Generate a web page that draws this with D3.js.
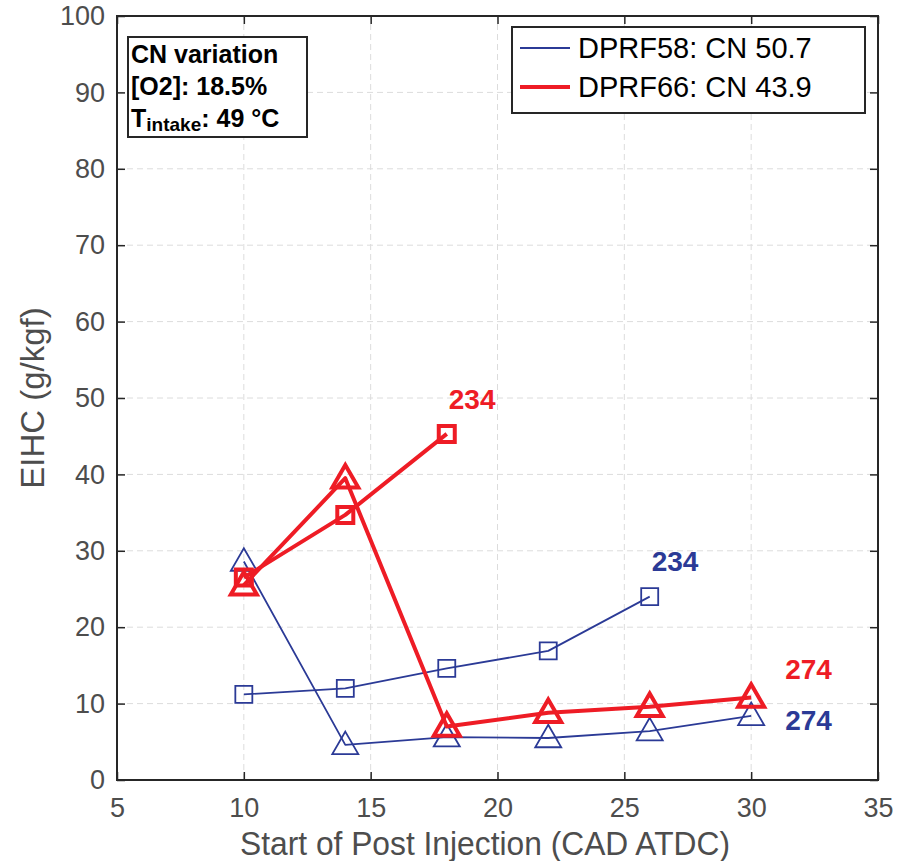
<!DOCTYPE html>
<html>
<head>
<meta charset="utf-8">
<script src="https://cdn.jsdelivr.net/npm/d3@7"></script>
<style>
  body { margin: 0; background: #fff; }
  svg { font-family: "Liberation Sans", Arial, sans-serif; }
</style>
</head>
<body>
<svg id="chart" width="912" height="861"></svg>
<script>
// Data
const xTicks = [5, 10, 15, 20, 25, 30, 35]
const yTicks = [0, 10, 20, 30, 40, 50, 60, 70, 80, 90, 100]
const blue234X = [10, 14, 18, 22, 26]
const blue234Y = [11.2, 12.0, 14.6, 16.9, 24.0]
const blue274X = [10, 14, 18, 22, 26, 30]
const blue274Y = [28.6, 4.6, 5.6, 5.5, 6.4, 8.4]
const red234X = [10, 14, 18]
const red234Y = [26.5, 34.7, 45.3]
const red274X = [10, 14, 18, 22, 26, 30]
const red274Y = [25.5, 39.5, 7.0, 8.8, 9.6, 10.8]
const legendNames = ["DPRF58: CN 50.7", "DPRF66: CN 43.9"]

const BLUE = "#2b3a96"
const RED = "#ee1c25"
const AXIS = "#262626"
const TICKTEXT = "#4d4d4d"

const svg = d3.select("#chart")
const margin = { top: 16, left: 117, right: 34, bottom: 81 }
const width = 912, height = 861

const x = d3.scaleLinear().domain([5, 35]).range([margin.left, width - margin.right])
const y = d3.scaleLinear().domain([0, 100]).range([height - margin.bottom, margin.top])

// Grid
const grid = svg.append("g").attr("stroke", "#dcdcdc").attr("stroke-dasharray", "6,4").attr("stroke-width", 1)
grid.selectAll(".gx").data(xTicks.slice(1, -1)).join("line")
  .attr("x1", d => x(d)).attr("x2", d => x(d)).attr("y1", y(0)).attr("y2", y(100))
grid.selectAll(".gy").data(yTicks.slice(1, -1)).join("line")
  .attr("x1", x(5)).attr("x2", x(35)).attr("y1", d => y(d)).attr("y2", d => y(d))

// Axes (ticks inside, box)
const tick = 8
svg.append("g").attr("transform", `translate(0,${y(0)})`)
  .call(d3.axisBottom(x).tickValues(xTicks).tickSize(-tick).tickPadding(18).tickFormat(d3.format("d")))
  .call(g => g.select(".domain").remove())
  .call(g => g.selectAll(".tick line").attr("stroke", AXIS).attr("stroke-width", 1.5))
  .selectAll("text").attr("fill", TICKTEXT).style("font-size", "27px").style("font-family", "'Liberation Sans', Arial, sans-serif")
svg.append("g").attr("transform", `translate(0,${y(100)})`)
  .call(d3.axisTop(x).tickValues(xTicks).tickSize(-tick).tickFormat(""))
  .call(g => g.select(".domain").remove())
  .call(g => g.selectAll(".tick line").attr("stroke", AXIS).attr("stroke-width", 1.5))
svg.append("g").attr("transform", `translate(${x(5)},0)`)
  .call(d3.axisLeft(y).tickValues(yTicks).tickSize(-tick).tickPadding(12))
  .call(g => g.select(".domain").remove())
  .call(g => g.selectAll(".tick line").attr("stroke", AXIS).attr("stroke-width", 1.5))
  .selectAll("text").attr("fill", TICKTEXT).style("font-size", "27px").style("font-family", "'Liberation Sans', Arial, sans-serif")
svg.append("g").attr("transform", `translate(${x(35)},0)`)
  .call(d3.axisRight(y).tickValues(yTicks).tickSize(-tick).tickFormat(""))
  .call(g => g.select(".domain").remove())
  .call(g => g.selectAll(".tick line").attr("stroke", AXIS).attr("stroke-width", 1.5))
svg.append("rect")
  .attr("x", x(5)).attr("y", y(100)).attr("width", x(35) - x(5)).attr("height", y(0) - y(100))
  .attr("fill", "none").attr("stroke", AXIS).attr("stroke-width", 2)

// Axis titles
svg.append("text").attr("x", 485).attr("y", 855).attr("text-anchor", "middle")
  .attr("textLength", 490).attr("lengthAdjust", "spacingAndGlyphs")
  .attr("fill", TICKTEXT).style("font-size", "33px").text("Start of Post Injection (CAD ATDC)")
svg.append("text").attr("transform", `translate(44,${(y(0) + y(100)) / 2}) rotate(-90)`).attr("text-anchor", "middle")
  .attr("fill", TICKTEXT).style("font-size", "33px").text("EIHC (g/kgf)")

// Series
const series = [
  { X: blue234X, Y: blue234Y, color: BLUE, lw: 1.8, marker: "square", ms: 17, label: "234", lx: 26, ly: 27.3, dx: 2 },
  { X: blue274X, Y: blue274Y, color: BLUE, lw: 1.8, marker: "triangle", ms: 26, label: "274", lx: 30, ly: 6.6, dx: 34 },
  { X: red234X, Y: red234Y, color: RED, lw: 4, marker: "square", ms: 16, label: "234", lx: 18, ly: 48.6, dx: 2 },
  { X: red274X, Y: red274Y, color: RED, lw: 4, marker: "triangle", ms: 26, label: "274", lx: 30, ly: 13.2, dx: 34 },
]
const line = d3.line().x(d => x(d[0])).y(d => y(d[1]))
function markerPath(cx, cy, type, s) {
  if (type === "square") {
    const h = s / 2
    return `M${cx - h},${cy - h}H${cx + h}V${cy + h}H${cx - h}Z`
  }
  const h = s * 0.866, w = s / 2
  return `M${cx},${cy - h / 2 - 2}L${cx + w},${cy + h / 2 - 2}L${cx - w},${cy + h / 2 - 2}Z`
}
for (const s of series) {
  const D = s.X.map((v, i) => [v, s.Y[i]])
  svg.append("path").datum(D).attr("d", line).attr("fill", "none")
    .attr("stroke", s.color).attr("stroke-width", s.lw).attr("stroke-linejoin", "round")
  svg.append("g").selectAll("path").data(D).join("path")
    .attr("d", d => markerPath(x(d[0]), y(d[1]), s.marker, s.ms))
    .attr("fill", "none").attr("stroke", s.color).attr("stroke-width", s.lw)
  svg.append("text").attr("x", x(s.lx) + s.dx).attr("y", y(s.ly))
    .attr("fill", s.color).attr("font-weight", "bold").style("font-size", "28px").text(s.label)
}

// Info box
const info = svg.append("g")
info.append("rect").attr("x", 128).attr("y", 37).attr("width", 179).attr("height", 100)
  .attr("fill", "#fff").attr("stroke", AXIS).attr("stroke-width", 2)
const it = info.append("text").attr("font-weight", "bold").attr("fill", "#000").style("font-size", "25px")
it.append("tspan").attr("x", 131).attr("y", 63).text("CN variation")
it.append("tspan").attr("x", 131).attr("y", 95).text("[O2]: 18.5%")
const t3 = it.append("tspan").attr("x", 131).attr("y", 127).text("T")
t3.append("tspan").attr("dy", 4).style("font-size", "19px").text("intake")
it.append("tspan").attr("dy", -4).text(": 49 °C")

// Legend
const leg = svg.append("g")
leg.append("rect").attr("x", 512).attr("y", 27).attr("width", 353).attr("height", 86)
  .attr("fill", "#fff").attr("stroke", AXIS).attr("stroke-width", 2)
const legItems = [{ name: legendNames[0], color: BLUE, lw: 1.8 }, { name: legendNames[1], color: RED, lw: 4 }]
legItems.forEach((d, i) => {
  const cy = 48 + i * 39
  leg.append("line").attr("x1", 520).attr("x2", 570).attr("y1", cy).attr("y2", cy)
    .attr("stroke", d.color).attr("stroke-width", d.lw)
  leg.append("text").attr("x", 578).attr("y", cy + 10).attr("fill", "#000").style("font-size", "29px").text(d.name)
})
</script>
</body>
</html>
